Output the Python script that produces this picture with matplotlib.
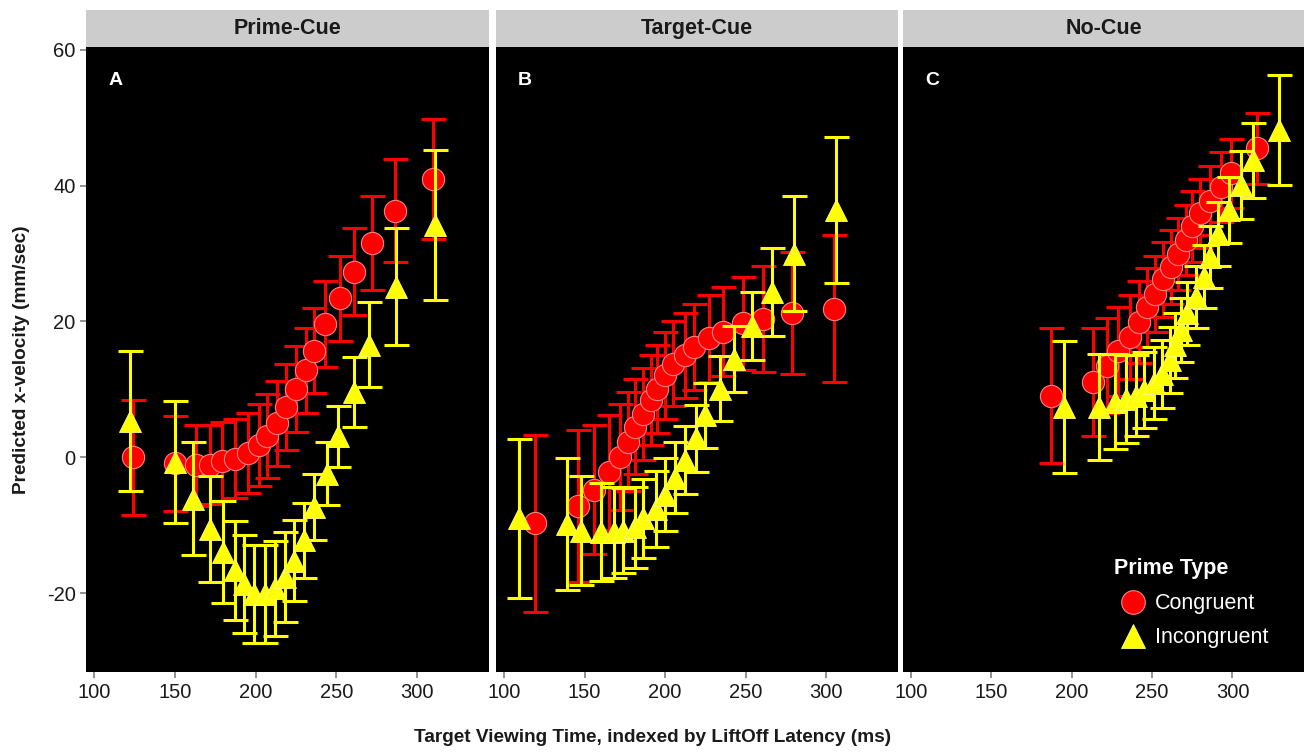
import numpy as np
import matplotlib
matplotlib.use("Agg")
import matplotlib.pyplot as plt
from matplotlib.lines import Line2D

plt.rcParams['font.family'] = ['Liberation Sans', 'DejaVu Sans']
plt.rcParams['axes.unicode_minus'] = False

# Donnees (ms, mm/sec)
panels = ["Prime-Cue", "Target-Cue", "No-Cue"]
letters = ["A", "B", "C"]

a_cong_x = [124, 150, 163, 172, 179, 187, 195, 202, 207, 213, 219, 225, 231, 236, 243, 252, 261, 272, 286, 310]
a_cong_y = [0.0, -0.9, -1.2, -1.1, -0.6, -0.2, 0.6, 1.8, 3.1, 5.0, 7.4, 10.1, 12.8, 15.7, 19.6, 23.4, 27.3, 31.6, 36.3, 41.0]
a_cong_e = [8.5, 7.0, 6.0, 5.8, 5.8, 5.8, 5.9, 6.0, 6.2, 6.3, 6.3, 6.3, 6.3, 6.3, 6.3, 6.3, 6.4, 6.9, 7.6, 8.8]

a_inc_x = [122, 150, 161, 172, 180, 187, 193, 199, 206, 212, 218, 224, 230, 236, 244, 251, 261, 270, 287, 311]
a_inc_y = [5.4, -0.7, -6.1, -10.5, -13.9, -16.6, -18.6, -20.1, -20.1, -19.3, -17.6, -15.2, -12.2, -7.3, -2.4, 3.1, 9.6, 16.6, 25.1, 34.2]
a_inc_e = [10.3, 9.0, 8.3, 7.8, 7.5, 7.3, 7.2, 7.2, 7.2, 7.0, 6.6, 6.0, 5.5, 4.9, 4.6, 4.5, 5.2, 6.2, 8.6, 11.0]

b_cong_x = [119, 146, 156, 165, 172, 177, 181, 186, 191, 195, 200, 205, 212, 218, 227, 236, 248, 261, 279, 305]
b_cong_y = [-9.7, -7.2, -4.8, -2.2, 0.1, 2.3, 4.5, 6.4, 8.4, 10.1, 12.1, 13.8, 15.0, 16.2, 17.5, 18.5, 19.7, 20.4, 21.2, 21.9]
b_cong_e = [13.0, 11.2, 9.5, 8.5, 7.8, 7.3, 7.0, 6.8, 6.6, 6.5, 6.4, 6.3, 6.3, 6.3, 6.4, 6.6, 6.8, 7.8, 9.0, 10.8]

b_inc_x = [109, 139, 148, 160, 168, 174, 181, 186, 194, 200, 206, 212, 219, 225, 234, 243, 254, 266, 280, 306]
b_inc_y = [-9.0, -9.8, -10.8, -11.0, -11.0, -10.8, -10.3, -9.0, -7.6, -5.5, -3.0, -0.4, 2.8, 6.2, 10.1, 14.5, 19.4, 24.3, 30.0, 36.4]
b_inc_e = [11.7, 9.7, 8.0, 7.2, 6.7, 6.3, 6.0, 5.8, 5.6, 5.4, 5.2, 5.0, 4.9, 4.8, 4.8, 4.9, 5.0, 6.5, 8.4, 10.7]

c_cong_x = [187, 213, 222, 229, 236, 242, 247, 252, 257, 262, 266, 271, 275, 280, 286, 293, 299, 315]
c_cong_y = [9.1, 11.1, 13.5, 15.6, 17.7, 19.9, 22.1, 24.1, 26.2, 28.0, 30.0, 32.0, 34.0, 35.9, 37.8, 39.8, 41.8, 45.5]
c_cong_e = [9.9, 8.0, 7.0, 6.5, 6.2, 6.0, 5.8, 5.6, 5.5, 5.4, 5.3, 5.2, 5.2, 5.1, 5.1, 5.1, 5.1, 5.2]

c_inc_x = [195, 217, 227, 234, 240, 245, 251, 256, 261, 264, 268, 272, 277, 282, 286, 291, 298, 305, 313, 329]
c_inc_y = [7.4, 7.4, 8.2, 8.6, 9.1, 9.9, 10.9, 12.3, 14.3, 16.5, 18.7, 21.2, 23.6, 26.6, 29.5, 32.9, 36.4, 40.1, 43.7, 48.2]
c_inc_e = [9.7, 7.8, 7.0, 6.5, 6.0, 5.6, 5.3, 5.0, 4.9, 4.8, 4.7, 4.6, 4.6, 4.6, 4.6, 4.7, 4.8, 5.0, 5.5, 8.1]

cong = [(a_cong_x, a_cong_y, a_cong_e), (b_cong_x, b_cong_y, b_cong_e), (c_cong_x, c_cong_y, c_cong_e)]
inc = [(a_inc_x, a_inc_y, a_inc_e), (b_inc_x, b_inc_y, b_inc_e), (c_inc_x, c_inc_y, c_inc_e)]

x_ticks = [100, 150, 200, 250, 300]
y_ticks = [-20, 0, 20, 40, 60]

rouge = '#FF0000'
jaune = '#FFFF00'

W, H = 1305, 754
fig = plt.figure(figsize=(W / 100, H / 100), dpi=100)

# positions des panneaux en pixels (gauche, droite)
bords = [(86, 489), (496, 898), (903, 1304)]
haut, bas, strip_h = 47, 672, 37

for i, (g, d) in enumerate(bords):
    ax = fig.add_axes([g / W, 1 - bas / H, (d - g) / W, (bas - haut) / H])
    ax.set_facecolor('black')
    for s in ax.spines.values():
        s.set_visible(False)

    cx, cy, ce = cong[i]
    ix, iy, ie = inc[i]
    ax.errorbar(cx, cy, yerr=ce, fmt='none', ecolor=rouge, elinewidth=2.2,
                capsize=9, capthick=2.2, zorder=2)
    ax.plot(cx, cy, 'o', ms=16, mfc=rouge, mec='#FF8080', mew=0.8, zorder=3)
    ax.errorbar(ix, iy, yerr=ie, fmt='none', ecolor=jaune, elinewidth=2.2,
                capsize=9, capthick=2.2, zorder=4)
    ax.plot(ix, iy, '^', ms=16, mfc=jaune, mec='#FFFF80', mew=0.6, zorder=5)

    ax.set_xlim(95, 344.5)
    ax.set_ylim(-31.6, 60.4)
    ax.set_xticks(x_ticks)
    ax.set_yticks(y_ticks)
    ax.tick_params(axis='both', colors='#7F7F7F', length=4, width=1.2,
                   labelsize=14.5, labelcolor='#1A1A1A')
    ax.tick_params(axis='x', pad=4)
    if i > 0:
        ax.tick_params(axis='y', left=False, labelleft=False)

    ax.text(0.055, 0.96, letters[i], transform=ax.transAxes, color='white',
            fontsize=14, fontweight='bold', va='top', ha='left')

    # bandeau gris du titre
    st = fig.add_axes([g / W, 1 - haut / H, (d - g) / W, strip_h / H])
    st.set_facecolor('#CCCCCC')
    st.set_xticks([])
    st.set_yticks([])
    for s in st.spines.values():
        s.set_visible(False)
    st.text(0.5, 0.5, panels[i], transform=st.transAxes, ha='center', va='center',
            fontsize=15.5, fontweight='bold', color='#1A1A1A')

    if i == 2:
        poignees = [
            Line2D([], [], marker='o', ls='none', ms=17, mfc=rouge, mec='#FF8080', mew=0.8),
            Line2D([], [], marker='^', ls='none', ms=17, mfc=jaune, mec='#FFFF80', mew=0.6),
        ]
        leg = ax.legend(poignees, ['Congruent', 'Incongruent'], title='Prime Type',
                        loc='upper left', bbox_to_anchor=(0.527, 0.182), frameon=False,
                        fontsize=15.5, labelcolor='white', handletextpad=0.2,
                        labelspacing=0.6, borderaxespad=0.0, borderpad=0.0,
                        handlelength=1.7)
        leg.get_title().set_color('white')
        leg.get_title().set_fontweight('bold')
        leg.get_title().set_fontsize(15.5)
        leg._legend_box.align = 'left'
        leg._legend_box.sep = 10

fig.text(0.5, 1 - 738 / H, "Target Viewing Time, indexed by LiftOff Latency (ms)",
         ha='center', va='center', fontsize=13.7, fontweight='bold', color='#1A1A1A')
fig.text(22 / W, 1 - 360 / H, "Predicted x-velocity (mm/sec)", rotation=90,
         ha='center', va='center', fontsize=13.7, fontweight='bold', color='#1A1A1A')

fig.savefig("out.png", dpi=100, facecolor='white')
